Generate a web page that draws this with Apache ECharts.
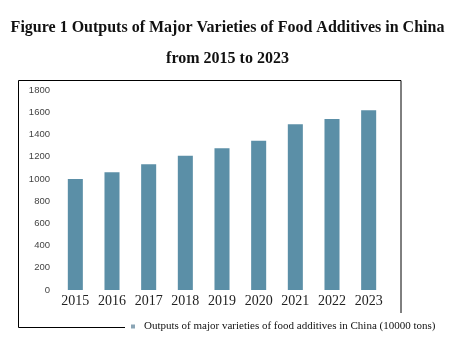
<!DOCTYPE html>
<html>
<head>
<meta charset="utf-8">
<script src="https://cdn.jsdelivr.net/npm/echarts@6/dist/echarts.min.js"></script>
<style>html,body{margin:0;padding:0;background:#fff;}#c{width:455px;height:338px;}</style>
</head>
<body>
<div id="c"></div>
<script>
var years = ['2015','2016','2017','2018','2019','2020','2021','2022','2023'];
var outputs = [1000, 1059, 1131, 1209, 1275, 1344, 1491, 1539, 1617];
var yTicks = [0, 200, 400, 600, 800, 1000, 1200, 1400, 1600, 1800];
var seriesName = 'Outputs of major varieties of food additives in China (10000 tons)';
var titleLines = ['Figure 1 Outputs of Major Varieties of Food Additives in China', 'from 2015 to 2023'];

var chart = echarts.init(document.getElementById('c'), null, {renderer: 'canvas'});
chart.setOption({
  animation: false,
  backgroundColor: '#ffffff',
  title: {
    text: titleLines.join('\n'),
    left: 'center',
    top: 7,
    textStyle: {fontFamily: 'Liberation Serif', fontWeight: 'bold', fontSize: 16, color: '#111', lineHeight: 31}
  },
  graphic: [{
    type: 'polyline',
    shape: {points: [[401, 313], [401, 80.5], [18.5, 80.5], [18.5, 327.5], [125, 327.5]]},
    style: {stroke: '#000', lineWidth: 1, fill: null}
  }],
  legend: {
    data: [{name: seriesName, itemStyle: {color: '#8aa5b5'}}],
    left: 126,
    top: 316,
    itemWidth: 4,
    itemHeight: 4,
    itemGap: 6,
    icon: 'rect',
    textStyle: {fontFamily: 'Liberation Serif', fontSize: 11, color: '#111', padding: [3, 0, 0, 4]}
  },
  grid: {left: 57, right: 68, top: 90, bottom: 48},
  xAxis: {
    type: 'category',
    data: years,
    axisLine: {show: false},
    axisTick: {show: false},
    axisLabel: {interval: 0, fontFamily: 'Liberation Serif', fontSize: 14, color: '#222', margin: 4}
  },
  yAxis: {
    type: 'value',
    min: yTicks[0],
    max: yTicks[yTicks.length - 1],
    interval: yTicks[1] - yTicks[0],
    axisLine: {show: false},
    axisTick: {show: false},
    splitLine: {show: false},
    axisLabel: {formatter: function (v) { return String(v); }, fontFamily: 'Liberation Sans', fontSize: 9.5, color: '#444', margin: 7}
  },
  series: [{
    name: seriesName,
    type: 'bar',
    data: outputs,
    barWidth: '41%',
    itemStyle: {color: '#5b8fa7'}
  }]
});
</script>
</body>
</html>
